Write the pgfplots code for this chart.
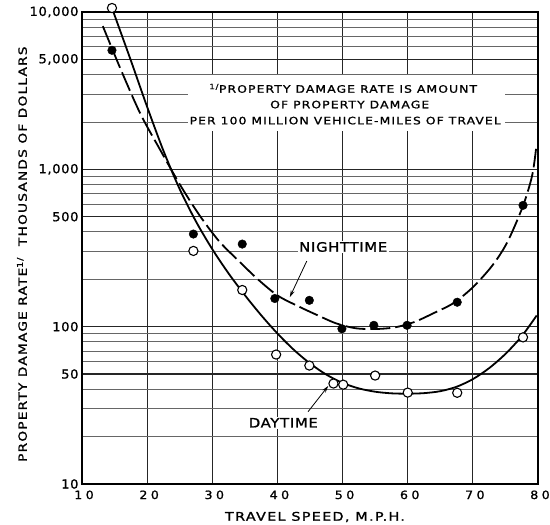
\documentclass[border=0pt]{standalone}
\usepackage{fontspec}
\usepackage{pgfplots}
\usepackage{pgfplotstable}
\pgfplotsset{compat=1.18}
\usetikzlibrary{arrows.meta}

% wide lettering, close to the drafting letters of the scan
\newfontfamily\lab{DejaVu Sans}[FakeStretch=1.2, LetterSpace=11, FakeBold=1.2]
\newfontfamily\ytk{DejaVu Sans}[FakeStretch=1.05, LetterSpace=5, FakeBold=1.2]
\newfontfamily\xtk{DejaVu Sans}[FakeStretch=1.1, LetterSpace=30, FakeBold=1.2]
\newfontfamily\curvelab{DejaVu Sans}[FakeStretch=1.15, LetterSpace=5, FakeBold=1.2]

% observed rates, nighttime (filled) and daytime (open)
\pgfplotstableread{
speed rate
14.6 5710
27.1 388
34.6 335
39.6 151
44.9 147
49.9 97
54.8 102
59.9 102
67.6 143
77.7 590
}\nightpts

\pgfplotstableread{
speed rate
14.6 10600
27.1 303
34.6 171
39.8 66.5
44.9 56.6
48.6 43.5
50.1 42.8
55.0 48.9
60.0 38.1
67.6 38
77.7 85.5
}\daypts

\begin{document}
\begin{tikzpicture}
\useasboundingbox (-82bp,-41bp) rectangle (468bp,484bp);
\begin{axis}[
    at={(0,0)}, anchor=south west,
    scale only axis, width=456bp, height=472bp,
    xmin=10, xmax=80,
    ymode=log, ymin=10, ymax=10000,
    xtick={10,20,...,80},
    ytick={10,50,100,500,1000,5000,10000},
    yticklabels={10,50,100,500,{1,000},{5,000},{10,000}},
    minor ytick={20,30,40,60,70,80,90,200,300,400,600,700,800,900,2000,3000,4000,6000,7000,8000,9000},
    grid=both,
    major grid style={black!85, line width=1.1bp},
    minor grid style={black!60, line width=0.9bp},
    major tick length=0pt, minor tick length=0pt,
    axis line style={line width=1.3bp},
    clip=false,
    /pgf/number format/assume math mode=true,
    xticklabel style={font=\xtk\fontsize{11.5}{12}\selectfont, yshift=-3bp, xshift=2bp},
    yticklabel style={font=\ytk\fontsize{12.5}{13}\selectfont},
    xlabel={TRAVEL SPEED, M.P.H.},
    ylabel={PROPERTY DAMAGE RATE\textsuperscript{1/}\ \ THOUSANDS OF DOLLARS},
    xlabel style={font=\lab\fontsize{12}{12}\selectfont,
        at={(axis description cs:0.511,-0.0699)}, anchor=center},
    ylabel style={font=\lab\fontsize{11.4}{12}\selectfont,
        at={(axis description cs:-0.1316,0.487)}, anchor=center},
]

% daytime curve
\addplot[line width=1.8bp, smooth] coordinates {
    (14.6,10600) (17.5,4920) (20,2495) (22.5,1313) (25,748) (27.5,466)
    (30,311) (32.5,218) (35,158.6) (37.5,118.3) (40,90.5) (42.5,71.4)
    (45,58.4) (47.5,49.6) (50,43.9) (52.5,40.5) (55,38.6) (57.5,37.7)
    (60,37.5) (62.5,37.8) (65,38.9) (67.5,41.5) (70,46.4) (72.5,54.5)
    (75,67.1) (77.5,86.9) (79.8,117.8)
};

% nighttime curve
\addplot[line width=1.8bp, smooth, dash pattern=on 20bp off 5bp] coordinates {
    (13.2,8128) (16,4266) (19,2239) (22,1330) (25,804) (28,513) (31,351)
    (34,263) (37,200) (40,158) (43,136) (46,119) (49,105) (52,97.7)
    (55,96.6) (58,98.9) (61,107) (64,122) (67,141) (70,178) (73,245)
    (75.3,345) (77.7,586) (79.1,912) (79.7,1350)
};

\addplot[only marks, mark=*, mark size=4.3bp, black] table {\nightpts};
\addplot[only marks, mark=*, mark size=4.6bp,
    mark options={fill=white, draw=black, line width=1.1bp}] table {\daypts};

% footnote block
\fill[white] (axis cs:26.3,3955) rectangle (axis cs:74.9,1740);
\node[font=\lab\fontsize{10.3}{11}\selectfont] at (axis cs:50.1,3270)
    {\textsuperscript{1/}PROPERTY DAMAGE RATE IS AMOUNT};
\node[font=\lab\fontsize{10.3}{11}\selectfont] at (axis cs:51.1,2580)
    {OF PROPERTY DAMAGE};
\node[font=\lab\fontsize{10.3}{11}\selectfont] at (axis cs:50.4,2040)
    {PER 100 MILLION VEHICLE-MILES OF TRAVEL};

% curve labels
\node[fill=white, inner sep=1.5bp, font=\curvelab\fontsize{13}{13}\selectfont]
    at (axis cs:50.1,321) {NIGHTTIME};
\node[fill=white, inner sep=1.5bp, font=\curvelab\fontsize{13}{13}\selectfont]
    at (axis cs:40.9,24.5) {DAYTIME};
\draw[-{Stealth[length=7bp,width=4bp]}, line width=0.8bp]
    (axis cs:44.5,261) -- (axis cs:41.9,154);
\draw[-{Stealth[length=7bp,width=4bp]}, line width=0.8bp]
    (axis cs:44.7,28.8) -- (axis cs:47.8,42);

\end{axis}
\end{tikzpicture}
\end{document}
